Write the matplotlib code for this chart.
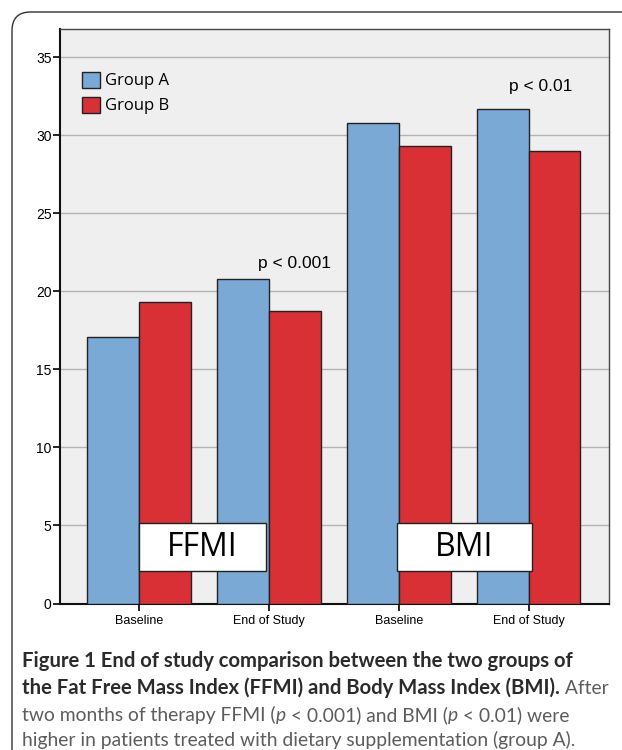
import numpy as np
import matplotlib.pyplot as plt
from matplotlib.patches import FancyBboxPatch, Rectangle

# values read per group (FFMI baseline / end, BMI baseline / end)
categories = ["Baseline", "End of Study", "Baseline", "End of Study"]
group_a = [17.1, 20.8, 30.8, 31.7]
group_b = [19.3, 18.75, 29.3, 29.0]
yticks = [0, 5, 10, 15, 20, 25, 30, 35]

blue = "#7aa9d6"
red = "#d93036"

W, H = 622, 750
fig = plt.figure(figsize=(W / 100, H / 100), dpi=100)

# outer rounded frame
frame = FancyBboxPatch((12 / W, -30 / H), 700 / W, (H - 12 + 30) / H,
                       boxstyle="round,pad=0,rounding_size=0.03",
                       transform=fig.transFigure, fill=False,
                       edgecolor="#333333", linewidth=1.0, mutation_aspect=W / H)
fig.patches.append(frame)

ax = fig.add_axes([60 / W, 1 - 603.5 / H, (609 - 60) / W, (603.5 - 29) / H])
ax.set_facecolor("#efefef")

x = np.arange(len(categories))
w = 0.40
ax.bar(x - w / 2, group_a, w, color=blue, edgecolor="#222222", linewidth=1.0,
       label="Group A", zorder=3)
ax.bar(x + w / 2, group_b, w, color=red, edgecolor="#222222", linewidth=1.0,
       label="Group B", zorder=3)

ax.set_xlim(-0.61, 3.62)
ax.set_ylim(0, 36.8)
ax.set_yticks(yticks)
ax.set_yticklabels([str(t) for t in yticks], fontfamily="Liberation Sans", fontsize=10)
ax.set_xticks(x)
ax.set_xticklabels(categories, fontfamily="Liberation Sans", fontsize=9)
ax.tick_params(axis="y", direction="out", length=5, width=1.2, pad=1)
ax.tick_params(axis="x", direction="out", length=5, width=1.2, pad=3)
ax.yaxis.grid(True, color="#b4b4b4", linewidth=1.0, zorder=0)
ax.set_axisbelow(True)
for s in ax.spines.values():
    s.set_color("#444444")
    s.set_linewidth(1.0)
ax.spines["bottom"].set_color("#111111")
ax.spines["bottom"].set_linewidth(1.5)
ax.spines["left"].set_color("#111111")
ax.spines["left"].set_linewidth(1.5)

leg = ax.legend(loc="upper left", bbox_to_anchor=(0.04, 0.926), frameon=False,
                prop={"family": "Open Sans", "size": 12}, handlelength=1.1,
                handleheight=1.1, handletextpad=0.3, labelspacing=0.45,
                borderaxespad=0, borderpad=0)

ax.text(1.2, 21.5, "p < 0.001", ha="center", va="baseline",
        fontfamily="Liberation Sans", fontsize=12.5)
ax.text(3.09, 32.8, "p < 0.01", ha="center", va="baseline",
        fontfamily="Liberation Sans", fontsize=12.5)

# panel name boxes
for label, x0, x1 in [("FFMI", 138.7, 266.3), ("BMI", 396.7, 532.3)]:
    box = Rectangle((x0 / W, 1 - 571 / H), (x1 - x0) / W, (571 - 523) / H,
                    transform=fig.transFigure, facecolor="white",
                    edgecolor="#222222", linewidth=1.0, zorder=5)
    fig.patches.append(box)
    fig.text((x0 + x1) / 2 / W, 1 - 548 / H, label, ha="center", va="center",
             fontfamily="Open Sans", fontsize=23, zorder=6)

# caption, built run by run
fig.canvas.draw()
renderer = fig.canvas.get_renderer()
cap_font = "Lato"
bold_size = 14.6
reg_size = 13.9
dark = "#2b2b2b"
grey = "#5c5c5c"
lines = [
    [("Figure 1 End of study comparison between the two groups of", "bold", "normal", dark)],
    [("the Fat Free Mass Index (FFMI) and Body Mass Index (BMI).", "bold", "normal", dark),
     (" After", "normal", "normal", grey)],
    [("two months of therapy FFMI (", "normal", "normal", grey),
     ("p", "normal", "italic", grey),
     (" < 0.001) and BMI (", "normal", "normal", grey),
     ("p", "normal", "italic", grey),
     (" < 0.01) were", "normal", "normal", grey)],
    [("higher in patients treated with dietary supplementation (group A).",
      "normal", "normal", grey)],
]
y_base = [667, 694, 721, 746]
for runs, yb in zip(lines, y_base):
    xp = 22
    for s, weight, style, col in runs:
        size = bold_size if weight == "bold" else reg_size
        t = fig.text(xp / W, 1 - yb / H, s, fontfamily=cap_font, fontsize=size,
                     fontweight=weight, fontstyle=style, color=col,
                     ha="left", va="baseline")
        bb = t.get_window_extent(renderer)
        # keep trailing spaces in the advance
        xp += bb.width + (4 if s.endswith(" ") else 0)

fig.savefig("out.png", dpi=100)
